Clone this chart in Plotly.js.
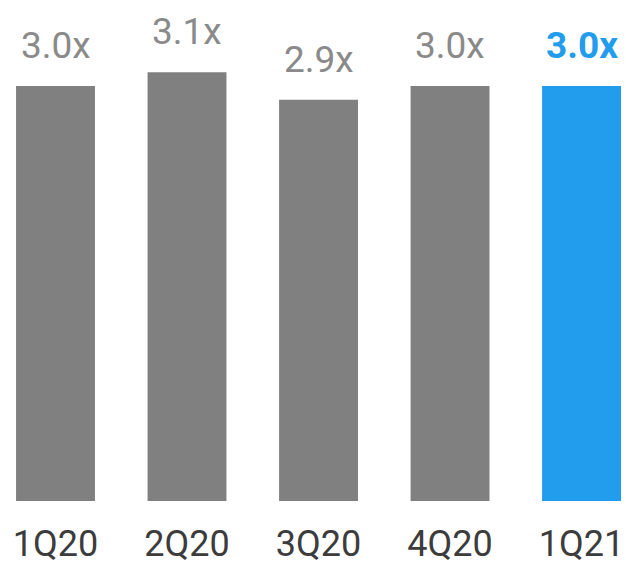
<!DOCTYPE html>
<html><head><meta charset="utf-8">
<script src="https://cdn.plot.ly/plotly-3.0.1.min.js"></script>
<style>html,body{margin:0;padding:0;background:#fff}#c{width:626px;height:563px}</style>
</head><body><div id="c"></div>
<script>
const categories = ["1Q20","2Q20","3Q20","4Q20","1Q21"];
const values = [3.0, 3.1, 2.9, 3.0, 3.0];
const labels = ["3.0x","3.1x","2.9x","3.0x","3.0x"];
const highlight = [false,false,false,false,true];

const GRAY = "#808080", BLUE = "#229CEC";
const colors = highlight.map(h => h ? BLUE : GRAY);

const trace = {
  type: "bar", x: categories, y: values, width: 0.6,
  marker: {color: colors}, hoverinfo: "none"
};
const annotations = categories.map((c, i) => ({
  x: c, y: values[i], xref: "x", yref: "y",
  text: labels[i],
  showarrow: false, yanchor: "bottom", yshift: 17,
  font: {family: "Roboto", size: 37, weight: highlight[i] ? 700 : 400,
         color: highlight[i] ? BLUE : "#8a8a8a"}
}));
Plotly.newPlot("c", [trace], {
  width: 626, height: 563,
  margin: {l: 0, r: 0, t: 0, b: 62},
  paper_bgcolor: "#fff", plot_bgcolor: "#fff",
  showlegend: false,
  xaxis: {type: "category", range: [-0.422, 4.338], showgrid: false, zeroline: false,
          showline: false, ticks: "", fixedrange: true, ticklabelstandoff: 18,
          tickfont: {family: "Roboto", size: 36, color: "#3c3c3c"}},
  yaxis: {range: [0, 3.622], visible: false, fixedrange: true},
  annotations: annotations
}, {staticPlot: true});
</script></body></html>
